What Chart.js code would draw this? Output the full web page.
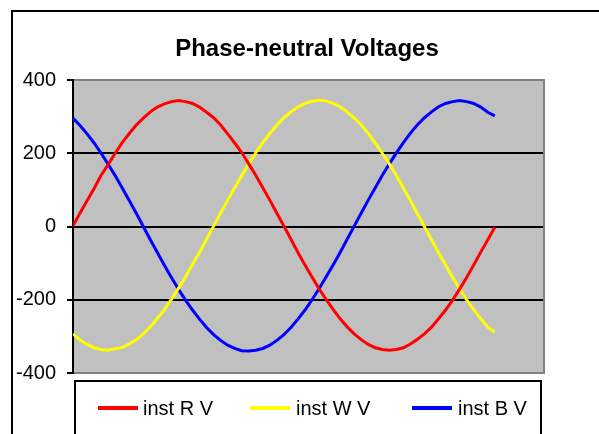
<!DOCTYPE html>
<html>
<head>
<meta charset="utf-8">
<script src="https://cdn.jsdelivr.net/npm/chart.js@4.4.1/dist/chart.umd.min.js"></script>
<style>
  html, body { margin: 0; padding: 0; background: #fff; }
  #wrap { width: 599px; height: 434px; position: relative; }
</style>
</head>
<body>
<div id="wrap"><canvas id="c" width="599" height="434"></canvas></div>
<script>
// Instantaneous phase-to-neutral voltages over one mains cycle (61 samples)
const seriesNames = ['inst R V', 'inst W V', 'inst B V'];
const seriesColors = ['#FF0000', '#FFFF00', '#0000FF'];

const instR = [2, 37, 70, 104, 140, 169, 200, 229, 254, 277, 296, 313, 326, 335, 341, 344,
  341, 336, 326, 312, 297, 277, 253, 228, 202, 171, 140, 106, 72, 36, 1, -35, -71, -105,
  -138, -170, -199, -226, -252, -274, -293, -309, -322, -331, -336, -338, -336, -331, -321,
  -308, -293, -275, -252, -228, -201, -171, -139, -105, -70, -36, -2];

const instW = [-293, -310, -322, -331, -336, -338, -334, -330, -321, -309, -293, -274, -251,
  -227, -199, -169, -138, -104, -71, -35, 1, 37, 72, 106, 139, 171, 201, 229, 254, 277, 297,
  313, 326, 336, 342, 345, 343, 336, 327, 313, 296, 277, 254, 228, 200, 171, 139, 105, 71,
  35, -1, -36, -71, -105, -139, -170, -200, -227, -252, -275, -288];

const instB = [296, 276, 253, 228, 200, 170, 139, 105, 71, 36, 0, -36, -71, -106, -139, -171,
  -201, -228, -253, -276, -295, -311, -324, -333, -339, -340, -338, -333, -324, -311, -295,
  -276, -253, -228, -200, -170, -138, -105, -71, -35, 1, 37, 72, 106, 140, 171, 201, 229,
  255, 278, 297, 313, 327, 336, 341, 344, 341, 336, 326, 312, 302];

const yTicks = [-400, -200, 0, 200, 400];
const sampleAxisMax = 67;   // category axis runs a few samples past the recorded cycle

const FONT = '"Liberation Sans", Arial, sans-serif';

function toPoints(values) {
  return values.map((v, i) => ({ x: i, y: v }));
}

const seriesValues = [instR, instW, instB];

const framePlugin = {
  id: 'excelFrame',
  beforeDraw(chart) {
    const { ctx, chartArea: a } = chart;
    ctx.save();
    // outer chart border
    ctx.strokeStyle = '#000';
    ctx.lineWidth = 2;
    ctx.beginPath();
    ctx.moveTo(12, 700);
    ctx.lineTo(12, 11);
    ctx.lineTo(700, 11);
    ctx.stroke();
    // plot area background
    ctx.fillStyle = '#C0C0C0';
    ctx.fillRect(a.left, a.top, a.right - a.left, a.bottom - a.top);
    ctx.restore();
  },
  beforeDatasetsDraw(chart) {
    const { ctx, chartArea: a } = chart;
    ctx.save();
    ctx.strokeStyle = '#808080';
    ctx.lineWidth = 2;
    ctx.beginPath();
    ctx.moveTo(a.left, a.top);
    ctx.lineTo(a.right, a.top);
    ctx.lineTo(a.right, a.bottom);
    ctx.lineTo(a.left, a.bottom);
    ctx.stroke();
    // value axis line
    ctx.strokeStyle = '#000';
    ctx.beginPath();
    ctx.moveTo(a.left, a.top - 1);
    ctx.lineTo(a.left, a.bottom + 1);
    ctx.stroke();
    ctx.restore();
  },
  afterDraw(chart) {
    const { ctx } = chart;
    ctx.save();
    // title
    ctx.fillStyle = '#000';
    ctx.font = 'bold 24px ' + FONT;
    ctx.textAlign = 'center';
    ctx.textBaseline = 'middle';
    ctx.fillText('Phase-neutral Voltages', 307, 49);
    // legend box
    ctx.strokeStyle = '#000';
    ctx.lineWidth = 2;
    ctx.strokeRect(75, 381, 466, 200);
    const items = [
      { lx: 98, tx: 143 },
      { lx: 250, tx: 296 },
      { lx: 412, tx: 458 }
    ];
    ctx.font = '20px ' + FONT;
    ctx.textAlign = 'left';
    chart.data.datasets.forEach((ds, i) => {
      const it = items[i];
      ctx.strokeStyle = ds.borderColor;
      ctx.lineWidth = 4;
      ctx.beginPath();
      ctx.moveTo(it.lx, 408);
      ctx.lineTo(it.lx + 40, 408);
      ctx.stroke();
      ctx.fillStyle = '#000';
      ctx.fillText(ds.label, it.tx, 409);
    });
    ctx.restore();
  }
};

new Chart(document.getElementById('c'), {
  type: 'line',
  data: {
    datasets: seriesNames.map((name, i) => ({
      label: name,
      data: toPoints(seriesValues[i]),
      borderColor: seriesColors[i],
      backgroundColor: seriesColors[i],
      borderWidth: 3,
      pointRadius: 0,
      tension: 0,
      fill: false
    }))
  },
  options: {
    responsive: false,
    animation: false,
    layout: { padding: { left: 0, right: 55, top: 80, bottom: 61 } },
    plugins: { legend: { display: false }, title: { display: false }, tooltip: { enabled: false } },
    scales: {
      x: {
        type: 'linear',
        min: 0,
        max: sampleAxisMax,
        display: false
      },
      y: {
        min: yTicks[0],
        max: yTicks[yTicks.length - 1],
        afterFit(scale) { scale.width = 73; },
        afterBuildTicks(scale) { scale.ticks = yTicks.map(v => ({ value: v })); },
        border: { display: false },
        grid: {
          color: ctx => (Math.abs(ctx.tick.value) === 400 ? 'rgba(0,0,0,0)' : '#000'),
          lineWidth: 2,
          tickColor: '#000',
          tickLength: 6,
          drawTicks: true
        },
        ticks: {
          color: '#000',
          font: { family: FONT, size: 20 },
          padding: 11
        }
      }
    }
  },
  plugins: [framePlugin]
});
</script>
</body>
</html>
